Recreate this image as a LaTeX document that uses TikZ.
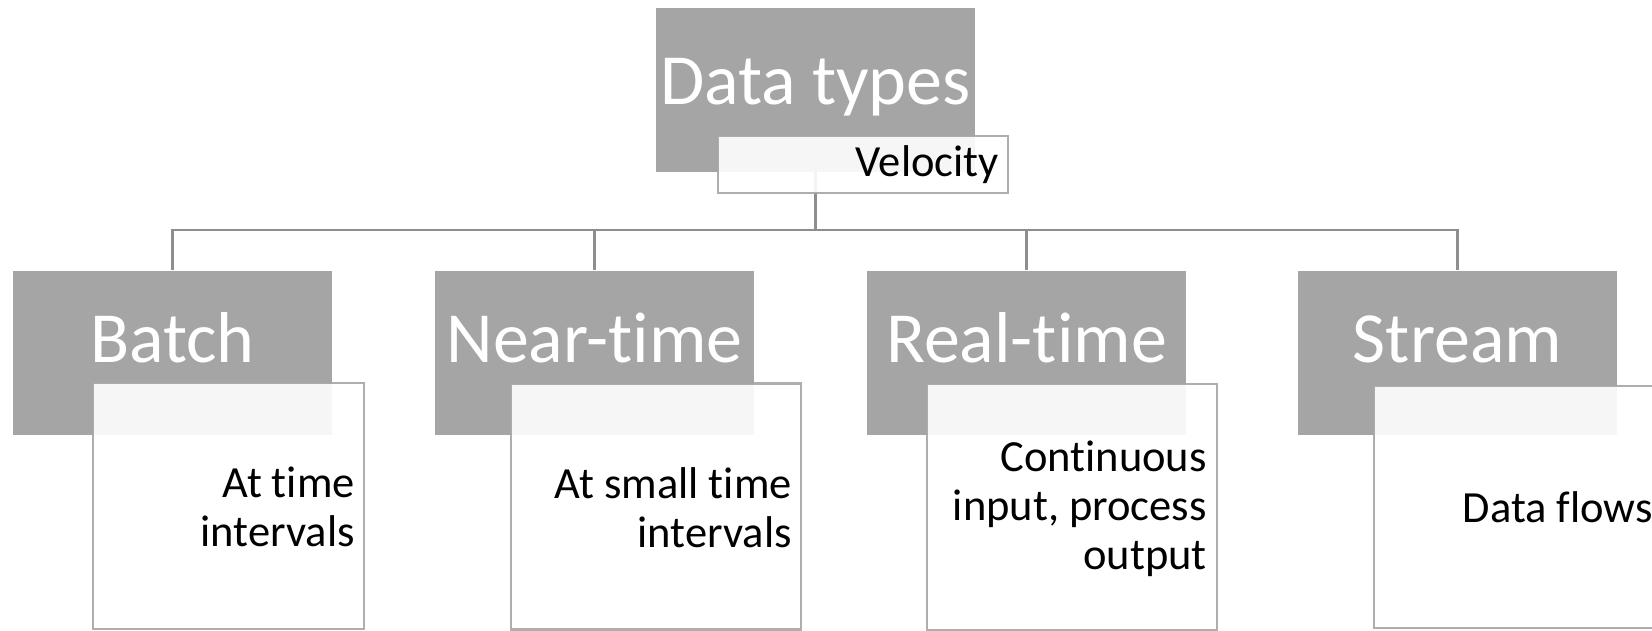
\documentclass[tikz,border=0pt]{standalone}
\usepackage{fontspec}
\setmainfont{Carlito}[Ligatures=NoCommon]
\definecolor{boxgray}{HTML}{A5A5A5}
\definecolor{conngray}{HTML}{8E8E8E}
\begin{document}
\begin{tikzpicture}[x=1pt,y=-1pt,
  graybox/.style={fill=boxgray, draw=none, minimum width=319pt, minimum height=164pt, inner sep=0pt},
  whitebox/.style={fill=white, draw=boxgray, fill opacity=0.9, draw opacity=0.9, line width=2.5pt, minimum width=290pt, minimum height=246pt, inner sep=0pt},
  headtext/.style={text=white, font=\fontsize{72}{80}\selectfont, inner sep=0pt, anchor=base},
  bodytext/.style={text=black, font=\fontsize{44.5}{49}\selectfont, inner sep=0pt, align=right, anchor=east},
  conn/.style={draw=conngray, line width=2.5pt}]
\useasboundingbox (0,0) rectangle (1652,631);
\clip (0,0) rectangle (1652,631);
% gray boxes
\node[graybox] (top) at (815.5,90) {};
\node[graybox] (batch) at (172.5,352.5) {};
\node[graybox] (near) at (594.5,352.5) {};
\node[graybox] (real) at (1026.5,352.5) {};
\node[graybox] (stream) at (1457.5,352.5) {};
% connectors
\coordinate (hub) at (815.5,230);
\draw[conn] (top.south) -- (hub);
\draw[conn] (hub) -| (batch.north);
\draw[conn] (hub) -| (near.north);
\draw[conn] (hub) -| (real.north);
\draw[conn] (hub) -| (stream.north);
% white boxes
\node[whitebox, minimum height=57pt] (vel) at (863,164.5) {};
\node[whitebox, minimum width=271pt] (wbatch) at (228.5,506) {};
\node[whitebox] (wnear) at (656,506.5) {};
\node[whitebox] (wreal) at (1072,507) {};
\node[whitebox, minimum height=242pt] (wstream) at (1519,507) {};
% texts
\node[headtext] (ttop) at (815.5,105) {Data types};
\node[headtext] (tbatch) at (172.5,362) {Batch};
\node[headtext] (tnear) at (594.5,362) {Near-time};
\node[headtext] (treal) at (1026.5,362) {Real-time};
\node[headtext] (tstream) at (1457.5,362) {Stream};
\node[bodytext] (tvel) at (999,165) {Velocity};
\node[bodytext] (dbatch) at (355,507) {At time\\intervals};
\node[bodytext] (dnear) at (792,507.5) {At small time\\intervals};
\node[bodytext] (dreal) at (1207,509) {Continuous\\input, process\\output};
\node[bodytext] (dstream) at (1653,507) {Data flows};
\end{tikzpicture}
\end{document}
